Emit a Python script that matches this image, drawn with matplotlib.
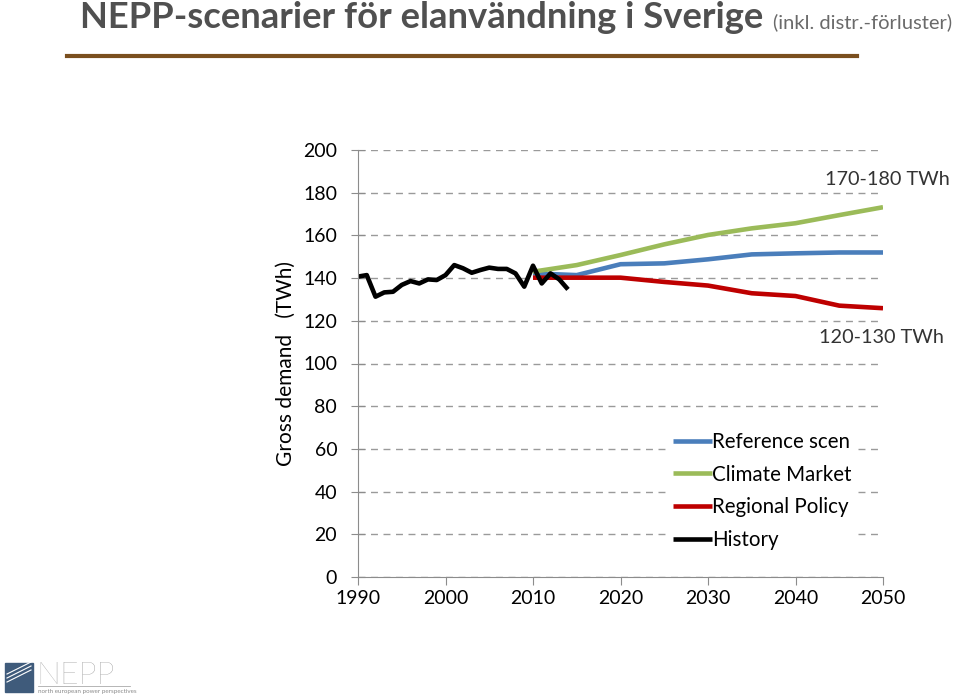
import numpy as np
import matplotlib
matplotlib.use("Agg")
import matplotlib.pyplot as plt
from matplotlib.patches import Rectangle

plt.rcParams["font.family"] = ["Lato", "DejaVu Sans"]

# history 1990-2014
hist_years = list(range(1990, 2015))
hist_vals = [140.7, 141.4, 131.3, 133.3, 133.6, 136.8, 138.6, 137.5, 139.4, 139.1,
             141.4, 146.1, 144.6, 142.5, 143.8, 144.9, 144.3, 144.3, 142.2, 136.0,
             145.8, 137.5, 142.2, 139.4, 134.7]

# scenarios
scen_years = [2010, 2015, 2020, 2025, 2030, 2035, 2040, 2045, 2050]
reference = [142.2, 141.4, 146.5, 146.9, 148.8, 151.1, 151.6, 152.0, 152.0]
climate = [143.0, 146.1, 150.8, 155.8, 160.2, 163.3, 165.7, 169.5, 173.2]
regional = [140.2, 140.2, 140.2, 138.2, 136.5, 132.9, 131.6, 127.1, 125.9]

y_ticks = list(range(0, 201, 20))
x_ticks = list(range(1990, 2051, 10))

fig = plt.figure(figsize=(9.6, 6.96), dpi=100)
ax = fig.add_axes([358 / 960, 119 / 696, 525 / 960, 427 / 696])

lw = 3.3
ax.plot(scen_years, reference, color="#4a7ebb", lw=lw, label="Reference scen", solid_capstyle="butt")
ax.plot(scen_years, climate, color="#9bbb59", lw=lw, label="Climate Market", solid_capstyle="butt")
ax.plot(scen_years, regional, color="#be0000", lw=lw, label="Regional Policy", solid_capstyle="butt")
ax.plot(hist_years, hist_vals, color="black", lw=lw, label="History", solid_capstyle="butt")

ax.set_xlim(1990, 2050)
ax.set_ylim(0, 200)
ax.set_xticks(x_ticks)
ax.set_yticks(y_ticks)
ax.grid(axis="y", color="#9a9a9a", ls=(0, (5, 4)), lw=1.0)
ax.set_axisbelow(True)
for s in ["top", "right"]:
    ax.spines[s].set_visible(False)
for s in ["left", "bottom"]:
    ax.spines[s].set_color("#8c8c8c")
ax.tick_params(axis="y", direction="inout", length=10, color="#8c8c8c", labelsize=14, pad=10)
ax.tick_params(axis="x", direction="out", length=6, color="#8c8c8c", labelsize=14, pad=3)
ax.set_ylabel("Gross demand   (TWh)", fontsize=15, labelpad=5)

ax.annotate("170-180 TWh", xy=(2050, 186), xytext=(3, 0), textcoords="offset points",
            ha="center", va="center", fontsize=14.3, color="#333333")
ax.annotate("120-130 TWh", xy=(2050, 112.4), xytext=(-1, 0), textcoords="offset points",
            ha="center", va="center", fontsize=14.3, color="#333333")

leg = ax.legend(loc="upper left", bbox_to_anchor=(0.594, 0.347), frameon=True, fontsize=14.8,
                handlelength=1.9, handletextpad=0.0, labelspacing=0.62, borderpad=0.15,
                borderaxespad=0)
leg.get_frame().set_edgecolor("none")
leg.get_frame().set_facecolor("white")
leg.get_frame().set_alpha(1)

# title and rule
fig.text(80 / 960, 1 - 18 / 696, "NEPP-scenarier för elanvändning i Sverige", fontsize=26.2,
         fontweight="bold", color="#505050", va="center", ha="left")
fig.text(773 / 960, 1 - 22 / 696, "(inkl. distr.-förluster)", fontsize=14.5, color="#6a6a6a",
         va="center", ha="left")
fig.add_artist(plt.Line2D([67 / 960, 857 / 960], [1 - 56 / 696, 1 - 56 / 696], color="#7a4f1e", lw=3))

# logo
fig.add_artist(Rectangle((5 / 960, 4 / 696), 28 / 960, 29 / 696, color="#3f5b7b"))
for off in [0, 4, 8]:
    fig.add_artist(plt.Line2D([7 / 960, 31 / 960], [(14 + off) / 696, (26 + off) / 696], color="white", lw=0.8))
fig.text(36 / 960, 21 / 696, "NEPP", fontsize=23, color="#8a8a8a", fontweight="light", va="center")
fig.add_artist(plt.Line2D([38 / 960, 130 / 960], [10 / 696, 10 / 696], color="#aaaaaa", lw=0.6))
fig.text(38 / 960, 5 / 696, "north european power perspectives", fontsize=4.5, color="#8a8a8a", va="center")

fig.savefig("out.png", dpi=100)
